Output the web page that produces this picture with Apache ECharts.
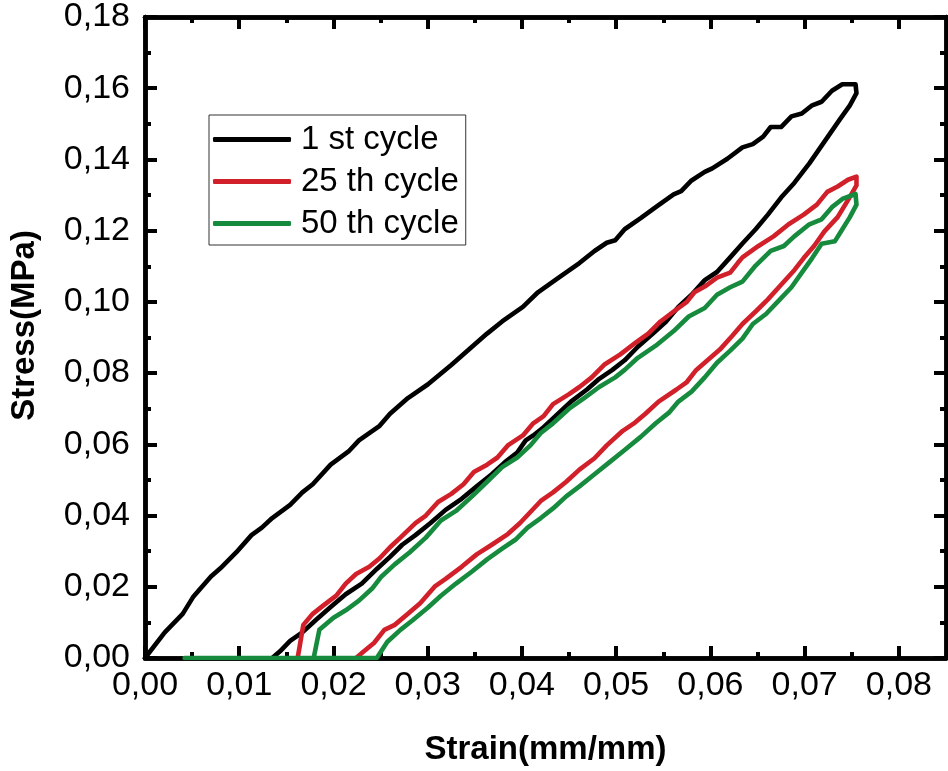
<!DOCTYPE html>
<html>
<head>
<meta charset="utf-8">
<script src="https://cdn.jsdelivr.net/npm/echarts@6/dist/echarts.min.js"></script>
<style>
html,body{margin:0;padding:0;background:#fff;}
#chart{width:948px;height:771px;}
</style>
</head>
<body>
<div id="chart"></div>
<script>
// ---- data ----
const seriesNames = ['1 st cycle', '25 th cycle', '50 th cycle'];

const strain1 = [0,0.0021,0.0040,0.0051,0.0070,0.0080,0.0097,0.0113,0.0124,0.0135,0.0154,0.0167,0.0178,0.0197,0.0216,0.0227,0.0249,0.0260,0.0279,0.0300,0.0325,0.0347,0.0363,0.0379,0.0401,0.0417,0.0439,0.0461,0.0477,0.0490,0.0499,0.0509,0.0526,0.0542,0.0561,0.0569,0.0580,0.0594,0.0602,0.0618,0.0634,0.0645,0.0656,0.0664,0.0675,0.0686,0.0697,0.0708,0.0718,0.0729,0.0740,0.0754,0.0755,
  0.0748,0.0737,0.0721,0.0705,0.0689,0.0675,0.0661,0.0648,0.0634,0.0621,0.0607,0.0594,0.0580,0.0566,0.0553,0.0539,0.0523,0.0509,0.0496,0.0482,0.0469,0.0452,0.0444,0.0433,0.0423,0.0412,0.0404,0.0395,0.0382,0.0368,0.0352,0.0336,0.0319,0.0303,0.0287,0.0273,0.0260,0.0246,0.0230,0.0213,0.0197,0.0181,0.0167,0.0154,0.0143,0.0135];
const stress1 = [0,0.0072,0.0124,0.0171,0.0229,0.0252,0.0297,0.0345,0.0366,0.0393,0.0430,0.0465,0.0488,0.0543,0.0580,0.0611,0.0652,0.0686,0.0730,0.0768,0.0823,0.0874,0.0911,0.0945,0.0986,0.1027,0.1068,0.1109,0.1143,0.1166,0.1173,0.1204,0.1235,0.1266,0.1302,0.1311,0.1341,0.1365,0.1375,0.1402,0.1434,0.1443,0.1464,0.1491,0.1491,0.1521,0.1529,0.1552,0.1562,0.1593,0.1611,0.1611,0.1586,
  0.1552,0.1511,0.1450,0.1389,0.1334,0.1293,0.1245,0.1204,0.1164,0.1125,0.1084,0.1061,0.1020,0.0986,0.0945,0.0911,0.0874,0.0836,0.0809,0.0784,0.0754,0.0720,0.0700,0.0673,0.0648,0.0625,0.0611,0.0577,0.0550,0.0516,0.0482,0.0447,0.0416,0.0379,0.0345,0.0318,0.0284,0.0250,0.0209,0.0179,0.0143,0.0106,0.0072,0.0048,0.0018,0];

const strain25 = [0.0162,0.0168,0.0178,0.0189,0.0203,0.0213,0.0224,0.0238,0.0249,0.0260,0.0271,0.0287,0.0298,0.0311,0.0325,0.0338,0.0349,0.0363,0.0374,0.0385,0.0401,0.0412,0.0423,0.0433,0.0450,0.0461,0.0474,0.0488,0.0504,0.0520,0.0534,0.0547,0.0561,0.0575,0.0583,0.0594,0.0607,0.0621,0.0629,0.0634,0.0651,0.0667,0.0683,0.0699,0.0713,0.0724,0.0735,0.0746,0.0755,0.0755,
  0.0746,0.0735,0.0721,0.0710,0.0699,0.0689,0.0675,0.0661,0.0648,0.0634,0.0623,0.0610,0.0596,0.0585,0.0575,0.0564,0.0545,0.0531,0.0520,0.0507,0.0490,0.0477,0.0461,0.0447,0.0433,0.0420,0.0409,0.0398,0.0385,0.0368,0.0352,0.0336,0.0319,0.0308,0.0292,0.0279,0.0265,0.0254,0.0243,0.0232,0.0224];
const stress25 = [0,0.0093,0.0124,0.0147,0.0175,0.0209,0.0236,0.0256,0.0280,0.0311,0.0338,0.0379,0.0400,0.0438,0.0461,0.0488,0.0522,0.0543,0.0563,0.0597,0.0625,0.0659,0.0679,0.0713,0.0741,0.0761,0.0788,0.0825,0.0852,0.0884,0.0911,0.0945,0.0973,0.1000,0.1027,0.1043,0.1068,0.1082,0.1109,0.1125,0.1157,0.1184,0.1218,0.1245,0.1273,0.1309,0.1324,0.1343,0.1352,0.1327,
  0.1286,0.1238,0.1198,0.1157,0.1123,0.1089,0.1048,0.1007,0.0973,0.0938,0.0904,0.0866,0.0834,0.0809,0.0775,0.0754,0.0720,0.0686,0.0661,0.0638,0.0597,0.0561,0.0529,0.0495,0.0465,0.0441,0.0410,0.0379,0.0348,0.0318,0.0291,0.0256,0.0222,0.0202,0.0154,0.0124,0.0093,0.0079,0.0042,0.0018,0];

const strain50 = [0.0042,0.0179,0.0185,0.0200,0.0213,0.0227,0.0241,0.0251,0.0265,0.0281,0.0298,0.0314,0.0330,0.0347,0.0363,0.0379,0.0395,0.0409,0.0420,0.0433,0.0450,0.0466,0.0482,0.0499,0.0509,0.0523,0.0542,0.0561,0.0577,0.0594,0.0607,0.0621,0.0634,0.0648,0.0664,0.0678,0.0689,0.0705,0.0718,0.0729,0.0740,0.0754,0.0755,
  0.0748,0.0740,0.0732,0.0718,0.0708,0.0697,0.0686,0.0672,0.0659,0.0645,0.0634,0.0621,0.0607,0.0594,0.0580,0.0566,0.0556,0.0542,0.0526,0.0509,0.0493,0.0477,0.0461,0.0447,0.0433,0.0420,0.0406,0.0393,0.0379,0.0363,0.0347,0.0330,0.0314,0.0300,0.0284,0.0271,0.0257,0.0246,0.0042];
const stress50 = [0,0,0.0079,0.0113,0.0134,0.0161,0.0195,0.0229,0.0263,0.0297,0.0338,0.0386,0.0413,0.0454,0.0495,0.0536,0.0563,0.0597,0.0632,0.0659,0.0700,0.0730,0.0761,0.0788,0.0809,0.0843,0.0877,0.0918,0.0959,0.0983,0.1020,0.1041,0.1057,0.1102,0.1143,0.1157,0.1184,0.1218,0.1232,0.1266,0.1289,0.1303,0.1273,
  0.1238,0.1204,0.1170,0.1163,0.1123,0.1082,0.1041,0.1002,0.0966,0.0938,0.0897,0.0863,0.0829,0.0788,0.0748,0.0720,0.0689,0.0659,0.0621,0.0584,0.0550,0.0516,0.0482,0.0454,0.0420,0.0393,0.0366,0.0332,0.0307,0.0277,0.0243,0.0209,0.0175,0.0141,0.0106,0.0079,0.0045,0,0];

const xMajorTicks = [0,0.01,0.02,0.03,0.04,0.05,0.06,0.07,0.08];
const xMinorTicks = [0.005,0.015,0.025,0.035,0.045,0.055,0.065,0.075];
const yMajorTicks = [0,0.02,0.04,0.06,0.08,0.10,0.12,0.14,0.16,0.18];
const yMinorTicks = [0.01,0.03,0.05,0.07,0.09,0.11,0.13,0.15,0.17];

// ---- chart ----
const FONT = '"Liberation Sans", Arial, sans-serif';
const C_BLACK = '#000000', C_RED = '#D2202A', C_GREEN = '#168A3D';
const LW = 4.6;
const fmt = v => v.toFixed(2).replace('.', ',');
const zip = (a, b) => a.map((v, i) => [v, b[i]]);

function axis(kind, pos, ticks, len, withLabels, extra) {
  const isX = kind === 'x';
  const o = {
    type: 'value',
    position: pos,
    min: 0,
    max: isX ? 0.085 : 0.18,
    axisLine: { show: true, onZero: false, lineStyle: { color: '#000', width: 4.5 } },
    axisTick: { show: true, inside: true, length: len, customValues: ticks, lineStyle: { color: '#000', width: 4 } },
    axisLabel: withLabels ? {
      show: true, customValues: isX ? xMajorTicks : yMajorTicks, formatter: fmt,
      color: '#000', fontFamily: FONT, fontSize: 34, margin: isX ? 11 : 15
    } : { show: false },
    splitLine: { show: false },
    minorTick: { show: false }
  };
  return Object.assign(o, extra || {});
}

const chart = echarts.init(document.getElementById('chart'), null, { renderer: 'canvas' });
chart.setOption({
  animation: false,
  backgroundColor: '#ffffff',
  grid: { left: 141, right: 2, top: 16, bottom: 106, containLabel: false },
  legend: {
    orient: 'vertical',
    left: 209, top: 115,
    data: [
      { name: seriesNames[0], icon: 'roundRect', itemStyle: { color: C_BLACK } },
      { name: seriesNames[1], icon: 'roundRect', itemStyle: { color: C_RED } },
      { name: seriesNames[2], icon: 'roundRect', itemStyle: { color: C_GREEN } }
    ],
    borderColor: '#333', borderWidth: 1,
    padding: [8, 7, 5, 4],
    itemWidth: 78, itemHeight: 5, itemGap: 9,
    textStyle: { fontFamily: FONT, fontSize: 33, color: '#000', lineHeight: 33, padding: [0, 0, 0, 5] }
  },
  xAxis: [
    axis('x', 'bottom', xMajorTicks, 12, true, {
      name: 'Strain(mm/mm)', nameLocation: 'middle', nameGap: 75,
      nameTextStyle: { fontFamily: FONT, fontSize: 33, fontWeight: 'bold', color: '#000' }
    }),
    axis('x', 'bottom', xMinorTicks, 6, false),
    axis('x', 'top', xMajorTicks, 12, false),
    axis('x', 'top', xMinorTicks, 6, false)
  ],
  yAxis: [
    axis('y', 'left', yMajorTicks, 12, true, {
      name: 'Stress(MPa)', nameLocation: 'middle', nameGap: 104,
      nameTextStyle: { fontFamily: FONT, fontSize: 33, fontWeight: 'bold', color: '#000', padding: [0, 0, 0, 24] }
    }),
    axis('y', 'left', yMinorTicks, 6, false),
    axis('y', 'right', yMajorTicks, 12, false),
    axis('y', 'right', yMinorTicks, 6, false)
  ],
  series: [
    {
      name: seriesNames[0], type: 'line', xAxisIndex: 0, yAxisIndex: 0,
      data: zip(strain1, stress1),
      symbol: 'none', showSymbol: false,
      itemStyle: { color: C_BLACK },
      lineStyle: { color: C_BLACK, width: LW, join: 'round', cap: 'round' },
      z: 2
    },
    {
      name: seriesNames[1], type: 'line', xAxisIndex: 0, yAxisIndex: 0,
      data: zip(strain25, stress25),
      symbol: 'none', showSymbol: false,
      itemStyle: { color: C_RED },
      lineStyle: { color: C_RED, width: LW, join: 'round', cap: 'round' },
      z: 3
    },
    {
      name: seriesNames[2], type: 'line', xAxisIndex: 0, yAxisIndex: 0,
      data: zip(strain50, stress50),
      symbol: 'none', showSymbol: false,
      itemStyle: { color: C_GREEN },
      lineStyle: { color: C_GREEN, width: LW, join: 'round', cap: 'round' },
      z: 4
    }
  ]
});
</script>
</body>
</html>
